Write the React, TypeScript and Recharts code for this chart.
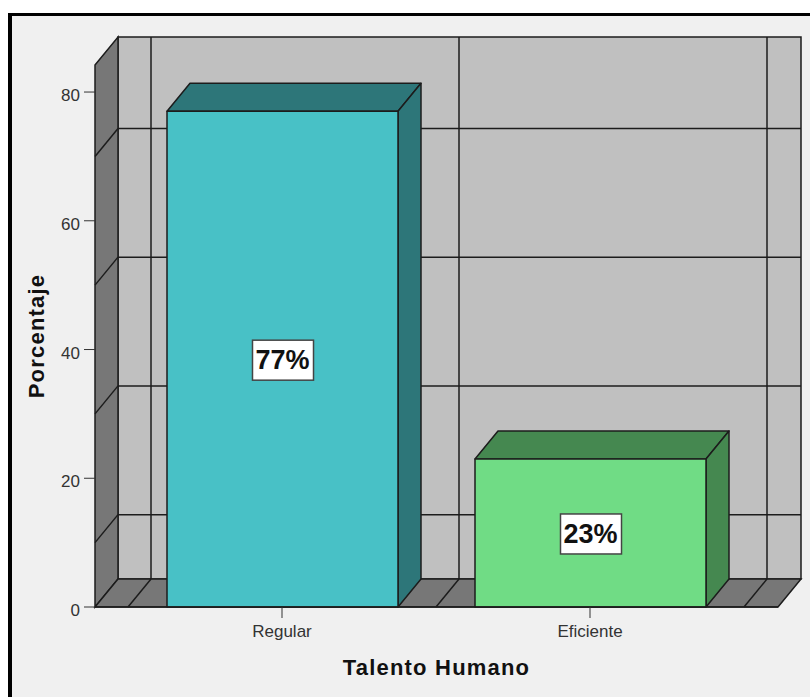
import { BarChart, Bar, XAxis, YAxis, CartesianGrid, LabelList, usePlotArea } from "recharts";

const categories = ["Regular", "Eficiente"];
const percentages = [77, 23];
const yTicks = [0, 20, 40, 60, 80];
const gridValues = [10, 30, 50, 70];
const yMax = 84.2;

const barFronts = ["#48C1C6", "#70DC85"];
const barTops = ["#2D7679", "#458850"];

// how far the back wall sits from the front plane
const DX = 23;
const DY = -28;
const LINE = "#1c1c1c";
const PAD_LEFT = 33;
const PAD_RIGHT = 34;

const tableData = categories.map((name, i) => ({ name, value: percentages[i], index: i }));

// back wall, left wall and floor of the 3D box
function Walls() {
  const area = usePlotArea();
  if (!area) return null;
  const { x, y, width, height } = area;
  const r = x + width;
  const b = y + height;
  return (
    <g>
      <rect x={x + DX} y={y + DY} width={width} height={height} fill="#C0C0C0" stroke={LINE} strokeWidth={1.5} />
      <polygon
        points={`${x},${y} ${x + DX},${y + DY} ${x + DX},${b + DY} ${x},${b}`}
        fill="#777777"
        stroke={LINE}
        strokeWidth={1.5}
      />
      <polygon
        points={`${x},${b} ${x + DX},${b + DY} ${r + DX},${b + DY} ${r},${b}`}
        fill="#777777"
        stroke={LINE}
        strokeWidth={1.5}
      />
    </g>
  );
}

// grid lines are pushed back onto the walls
const wallHorizontal = (props: any) => {
  const { x1, x2, y1 } = props;
  return (
    <g key={props.key}>
      <line x1={x1} y1={y1} x2={x1 + DX} y2={y1 + DY} stroke={LINE} strokeWidth={1.5} />
      <line x1={x1 + DX} y1={y1 + DY} x2={x2 + DX} y2={y1 + DY} stroke={LINE} strokeWidth={1.5} />
    </g>
  );
};

const wallVertical = (props: any) => {
  const { x1, y1, y2 } = props;
  return (
    <g key={props.key}>
      <line x1={x1} y1={y2} x2={x1 + DX} y2={y2 + DY} stroke={LINE} strokeWidth={1.5} />
      <line x1={x1 + DX} y1={y1 + DY} x2={x1 + DX} y2={y2 + DY} stroke={LINE} strokeWidth={1.5} />
    </g>
  );
};

// band edges of the category axis
const bandEdges = ({ offset }: any) => {
  const band = (offset.width - PAD_LEFT - PAD_RIGHT) / categories.length;
  return [0, 1, 2].map((i) => offset.left + PAD_LEFT + i * band);
};

const Box3D = (props: any) => {
  const { x, y, width, height, index } = props;
  const r = x + width;
  const b = y + height;
  return (
    <g stroke={LINE} strokeWidth={1.5} strokeLinejoin="round">
      <polygon points={`${x},${y} ${x + DX},${y + DY} ${r + DX},${y + DY} ${r},${y}`} fill={barTops[index]} />
      <polygon points={`${r},${y} ${r + DX},${y + DY} ${r + DX},${b + DY} ${r},${b}`} fill={barTops[index]} />
      <rect x={x} y={y} width={width} height={height} fill={barFronts[index]} />
    </g>
  );
};

const PercentLabel = (props: any) => {
  const { x, y, width, height, value } = props;
  const cx = x + width / 2;
  const cy = y + height / 2;
  return (
    <g>
      <rect x={cx - 30} y={cy - 19} width={61} height={40} fill="#FFFFFF" stroke="#444444" strokeWidth={1.5} />
      <text
        x={cx}
        y={cy + 10}
        textAnchor="middle"
        fontFamily="Liberation Sans"
        fontWeight={700}
        fontSize={27}
        fill="#111111"
      >
        {`${value}%`}
      </text>
    </g>
  );
};

const titleStyle = {
  fontFamily: "Liberation Sans",
  fontWeight: 700,
  fontSize: 22,
  letterSpacing: 1.2,
  fill: "#111111",
};

// centred on the axis, unlike the stock insideLeft placement
const YTitle = (props: any) => {
  const { viewBox } = props;
  const cy = viewBox.y + viewBox.height / 2;
  return (
    <text x={44} y={cy} textAnchor="middle" transform={`rotate(-90 44 ${cy})`} {...titleStyle}>
      Porcentaje
    </text>
  );
};

export default function App() {
  return (
    <div style={{ position: "absolute", left: 0, top: 0, width: 810, height: 697, background: "#FFFFFF", overflow: "hidden" }}>
      <div
        style={{
          position: "absolute",
          left: 8,
          top: 13,
          width: 802,
          height: 684,
          boxSizing: "border-box",
          background: "#F0F0F0",
          borderTop: "3px solid #000",
          borderLeft: "4px solid #000",
        }}
      />
      <div style={{ position: "absolute", left: 0, top: 0 }}>
        <BarChart width={810} height={697} data={tableData} margin={{ top: 65, right: 32, bottom: 0, left: 0 }}>
          <Walls />
          <CartesianGrid
            fill="none"
            zIndex={1}
            horizontal={wallHorizontal}
            vertical={wallVertical}
            horizontalValues={gridValues}
            verticalCoordinatesGenerator={bandEdges}
          />
          <XAxis
            dataKey="name"
            height={90}
            padding={{ left: PAD_LEFT, right: PAD_RIGHT }}
            axisLine={{ stroke: LINE, strokeWidth: 1.5 }}
            tickLine={{ stroke: "#333333" }}
            tickSize={11}
            tickMargin={7}
            tick={{ fill: "#333333", fontSize: 17, fontFamily: "Liberation Sans" }}
            label={{
              value: "Talento Humano",
              position: "insideBottom",
              offset: 22,
              ...titleStyle,
            }}
          />
          <YAxis
            width={95}
            domain={[0, yMax]}
            ticks={yTicks}
            axisLine={false}
            tickLine={{ stroke: "#333333" }}
            tickSize={11}
            tickMargin={4}
            tick={{ fill: "#333333", fontSize: 17, fontFamily: "Liberation Sans", dy: 3 }}
            label={<YTitle />}
          />
          <Bar dataKey="value" barSize={231} shape={Box3D} isAnimationActive={false}>
            <LabelList dataKey="value" content={PercentLabel} />
          </Bar>
        </BarChart>
      </div>
    </div>
  );
}
